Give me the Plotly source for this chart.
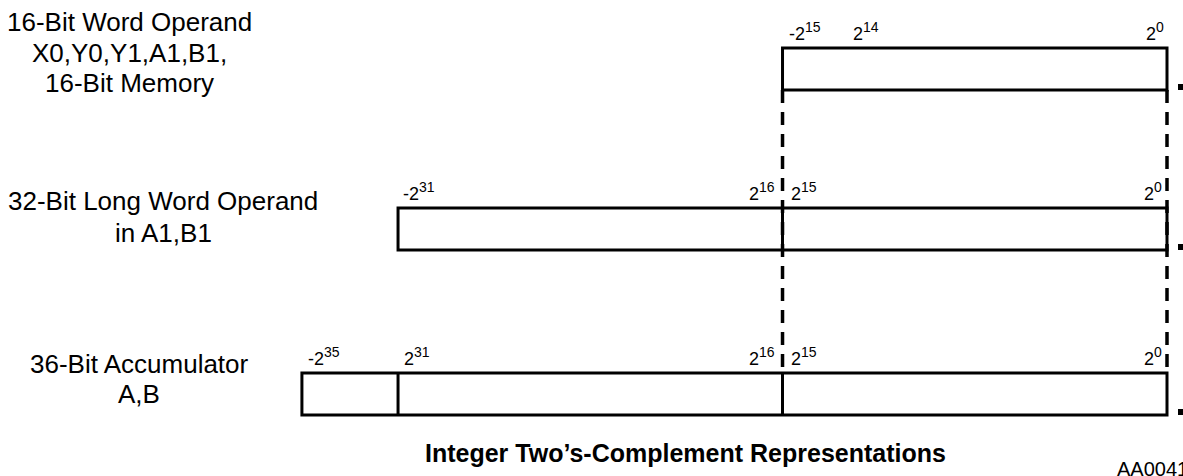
import plotly.graph_objects as go

# ---------------- data ----------------
row_titles = [
    ["16-Bit Word Operand", "X0,Y0,Y1,A1,B1,", "16-Bit Memory"],
    ["32-Bit Long Word Operand", "in A1,B1"],
    ["36-Bit Accumulator", "A,B"],
]
# field boundaries (bit positions, MSB edge -> LSB edge) for each register row
row_fields = [
    [16, 0],
    [32, 16, 0],
    [36, 32, 16, 0],
]
# bit weight labels per row: (base, exponent, bit anchor)
row_bit_labels = [
    [("-2", "15", 16), ("2", "14", 13), ("2", "0", 0)],
    [("-2", "31", 32), ("2", "16", 16), ("2", "15", 16), ("2", "0", 0)],
    [("-2", "35", 36), ("2", "31", 32), ("2", "16", 16), ("2", "15", 16), ("2", "0", 0)],
]
# alignment boundaries shared by all rows (dashed guides)
guide_bits = [16, 0]
title_text = "Integer Two\u2019s-Complement Representations"
figure_id = "AA0041"

# ---------------- layout / style ----------------
W, H = 1183, 476
PX_PER_BIT = 24.03
X_ZERO_PX = 1167
row_top_px = [48, 208, 373]
BOX_H = 42
title_x_px = [129, 163, 139]
title_first_y = [22, 201, 364]
title_line_gap = [30.5, 32, 30]
label_baseline_gap = 2

# per-label horizontal fine offsets (px) and anchor side
label_style = [
    [(4, "left"), (-4, "left"), (-1, "right")],
    [(3, "left"), (-6, "right"), (6, "left"), (-3, "right")],
    [(4, "left"), (4, "left"), (-6, "right"), (6, "left"), (-3, "right")],
]

FONT = "Liberation Sans, Arial, sans-serif"
BLACK = "#000000"

fig = go.Figure()
shapes = []
annotations = []

for r, fields in enumerate(row_fields):
    top = row_top_px[r]
    bot = top + BOX_H
    shapes.append(dict(type="rect", xref="x", yref="y", x0=fields[0], x1=fields[-1],
                       y0=top, y1=bot, line=dict(color=BLACK, width=3), layer="above"))
    for b in fields[1:-1]:
        shapes.append(dict(type="line", xref="x", yref="y", x0=b, x1=b, y0=top, y1=bot,
                           line=dict(color=BLACK, width=3), layer="above"))
    shapes.append(dict(type="rect", xref="x", yref="y", xsizemode="pixel", xanchor=0,
                       x0=11, x1=16, y0=bot - 6, y1=bot, fillcolor=BLACK,
                       line=dict(color=BLACK, width=0)))
    for i, line in enumerate(row_titles[r]):
        annotations.append(dict(text=line, xref="paper", yref="y",
                                x=title_x_px[r] / W, y=title_first_y[r] + i * title_line_gap[r],
                                xanchor="center", yanchor="middle", showarrow=False,
                                font=dict(family=FONT, size=26, color=BLACK)))
    for (base, exp, bit), (dx, side) in zip(row_bit_labels[r], label_style[r]):
        annotations.append(dict(text=f"{base}<sup><span style='font-size:14px'>{exp}</span></sup>",
                                xref="x", yref="y",
                                x=bit, xshift=dx, y=top - label_baseline_gap,
                                xanchor=side, yanchor="bottom", showarrow=False,
                                font=dict(family=FONT, size=18, color=BLACK)))

for b in guide_bits:
    shapes.append(dict(type="line", xref="x", yref="y", x0=b, x1=b,
                       y0=row_top_px[0] + BOX_H, y1=row_top_px[-1],
                       line=dict(color=BLACK, width=3.5, dash="13px,9px"), layer="above"))

annotations.append(dict(text=f"<b>{title_text}</b>", xref="paper", yref="y",
                        x=685 / W, y=453, xanchor="center", yanchor="middle",
                        showarrow=False, font=dict(family=FONT, size=25, color=BLACK)))
annotations.append(dict(text=figure_id, xref="paper", yref="y",
                        x=1115 / W, y=469, xanchor="left", yanchor="middle",
                        showarrow=False, font=dict(family=FONT, size=20, color=BLACK)))

x_left = X_ZERO_PX / PX_PER_BIT
x_right = (X_ZERO_PX - W) / PX_PER_BIT

fig.update_layout(
    width=W, height=H,
    margin=dict(l=0, r=0, t=0, b=0),
    paper_bgcolor="white", plot_bgcolor="white",
    showlegend=False,
    xaxis=dict(range=[x_left, x_right], visible=False, fixedrange=True),
    yaxis=dict(range=[H, 0], visible=False, fixedrange=True),
    shapes=shapes, annotations=annotations,
)

fig.write_html("out.html", config={"displayModeBar": False},
               post_script="document.body.style.margin='0px';")
